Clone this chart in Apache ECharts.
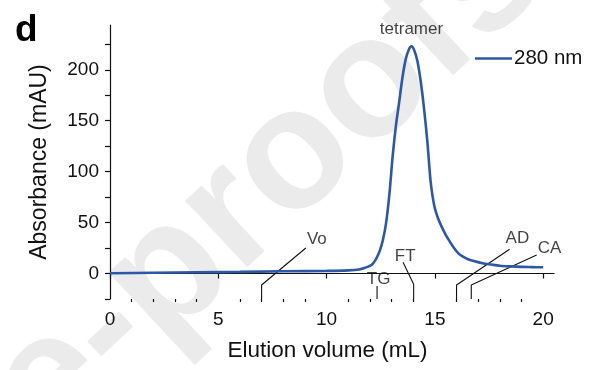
<!DOCTYPE html>
<html>
<head>
<meta charset="utf-8">
<script src="https://cdn.jsdelivr.net/npm/echarts@6/dist/echarts.min.js"></script>
<style>
  html, body { margin: 0; padding: 0; background: #fff; }
  #chart { width: 595px; height: 370px; }
</style>
</head>
<body>
<div id="chart"></div>
<script>
// Size-exclusion chromatogram, absorbance at 280 nm
const elutionVolume = [0, 2, 4, 6, 8, 10, 11, 11.5, 11.8, 12.0, 12.15, 12.3, 12.45, 12.6, 12.75, 12.9, 13.05, 13.2, 13.35, 13.5, 13.65, 13.8, 13.92, 14.05, 14.2, 14.35, 14.5, 14.65, 14.8, 14.9, 15.0, 15.15, 15.3, 15.5, 15.7, 15.9, 16.1, 16.3, 16.5, 16.8, 17.2, 17.6, 18.0, 18.5, 19.0, 19.5, 20.0];
const absorbance280 = [0.3, 0.8, 1.2, 1.6, 2.2, 2.6, 3.1, 4.0, 5.8, 7.5, 10.0, 15.0, 22.0, 33.0, 50.0, 78.0, 115.0, 145.0, 168.0, 192.0, 210.0, 220.0, 223.0, 219.0, 208.0, 188.0, 162.0, 130.0, 91.0, 75.0, 64.0, 54.0, 46.5, 38.0, 31.0, 24.5, 19.5, 16.5, 14.3, 12.2, 10.0, 8.8, 7.7, 7.0, 6.5, 6.3, 6.1];
const peakName = 'tetramer';
const seriesName = '280 nm';

// Calibration standards: elution volume and leader-line geometry (data units)
const standardNames = ['Vo', 'TG', 'FT', 'AD', 'CA'];
const standardVolumes = [7.0, 12.33, 14.02, 16.0, 16.68];
const leaderKnee = [-11.3, -12.3, -10.6, -11.3, -11.3];
const leaderEndX = [9.04, 12.33, 13.53, 18.45, 19.70];
const leaderEndY = [25.1, -12.3, 11.0, 23.8, 18.2];
const labelX = [9.55, 12.40, 13.63, 18.81, 20.29];
const labelY = [33.9, -5.4, 17.2, 34.9, 25.1];

const xTicks = [0, 5, 10, 15, 20];
const xMinorTicks = [1, 2, 3, 4, 6, 7, 8, 9, 11, 12, 13, 14, 16, 17, 18, 19];
const yTicks = [-25, 0, 25, 50, 75, 100, 125, 150, 175, 200, 225];
const yLabels = [0, 50, 100, 150, 200];

const FONT = '"Liberation Sans", Arial, sans-serif';
const INK = '#111111';
const BLUE = '#2c58a6';

const traceData = elutionVolume.map((v, i) => [v, absorbance280[i]]);
const peakIndex = absorbance280.indexOf(Math.max(...absorbance280));

const leaderSeries = standardNames.map((name, i) => ({
  type: 'line',
  name: 'std-' + name,
  data: [[standardVolumes[i], -25], [standardVolumes[i], leaderKnee[i]], [leaderEndX[i], leaderEndY[i]]],
  showSymbol: false, symbol: 'none', silent: true, clip: false,
  lineStyle: { color: INK, width: 1.1 },
  z: 3
}));

const labelSeries = {
  type: 'scatter',
  name: 'std-labels',
  data: standardNames.map((n, i) => ({ value: [labelX[i], labelY[i]], name: n })),
  symbolSize: 0, silent: true, clip: false,
  label: {
    show: true, position: 'inside', formatter: p => p.name,
    color: INK, fontFamily: FONT, fontSize: 17
  },
  z: 4
};

const peakLabelSeries = {
  type: 'scatter',
  name: 'peak-label',
  data: [{ value: [elutionVolume[peakIndex], absorbance280[peakIndex]], name: peakName }],
  symbolSize: 0, silent: true, clip: false,
  label: {
    show: true, position: 'top', distance: 9, formatter: p => p.name,
    color: INK, fontFamily: FONT, fontSize: 17
  },
  z: 4
};

const chart = echarts.init(document.getElementById('chart'), null, { renderer: 'canvas' });

const axisLineStyle = { color: INK, width: 1.2 };

chart.setOption({
  animation: false,
  backgroundColor: '#fff',
  graphic: [
    {
      type: 'text', x: -42, y: 472, rotation: 43 * Math.PI / 180, z: -10, silent: true,
      style: {
        text: 'Journal Pre-proofs', x: 0, y: 0, align: 'center', verticalAlign: 'middle',
        font: 'bold 172px "Liberation Sans", Arial, sans-serif', fill: '#ebebeb'
      }
    },
    {
      type: 'text', left: 15, top: 12, z: 10,
      style: { text: 'd', font: 'bold 37px "Liberation Sans", Arial, sans-serif', fill: '#000' }
    }
  ],
  grid: { left: 110, right: 41, top: 25, bottom: 71, containLabel: false, outerBoundsMode: 'none' },
  legend: {
    left: 475, top: 48, padding: 0,
    data: [seriesName],
    icon: 'rect', itemWidth: 37, itemHeight: 2.5,
    textStyle: { color: INK, fontFamily: FONT, fontSize: 20.5, padding: [0, 0, 0, -3] }
  },
  xAxis: [
    {
      type: 'value', min: 0, max: 20.5,
      name: 'Elution volume (mL)', nameLocation: 'middle', nameGap: 40,
      nameTextStyle: { color: INK, fontFamily: FONT, fontSize: 22.5, padding: [0, 9, 0, 0] },
      axisLine: { show: true, lineStyle: axisLineStyle },
      axisTick: { show: true, length: 5, inside: false, customValues: xTicks, lineStyle: axisLineStyle },
      axisLabel: { customValues: xTicks, margin: 11, color: INK, fontFamily: FONT, fontSize: 19 },
      splitLine: { show: false }
    },
    {
      type: 'value', min: 0, max: 20.5, position: 'bottom',
      axisLine: { show: false },
      axisTick: { show: true, length: 3, inside: false, customValues: xMinorTicks, lineStyle: axisLineStyle },
      axisLabel: { show: false },
      splitLine: { show: false }
    }
  ],
  yAxis: {
    type: 'value', min: -25, max: 244,
    name: 'Absorbance (mAU)', nameLocation: 'middle', nameGap: 59,
    nameTextStyle: { color: INK, fontFamily: FONT, fontSize: 23 },
    axisLine: { show: true, lineStyle: axisLineStyle },
    axisTick: { show: true, length: 5, inside: false, customValues: yTicks, lineStyle: axisLineStyle },
    axisLabel: { customValues: yLabels, margin: 11, color: INK, fontFamily: FONT, fontSize: 19 },
    splitLine: { show: false }
  },
  series: [
    {
      type: 'line', name: seriesName,
      data: traceData,
      smooth: 0.3,
      showSymbol: false, symbol: 'none',
      lineStyle: { color: BLUE, width: 2.6 },
      itemStyle: { color: BLUE },
      z: 5
    },
    ...leaderSeries,
    labelSeries,
    peakLabelSeries
  ]
});
</script>
</body>
</html>
